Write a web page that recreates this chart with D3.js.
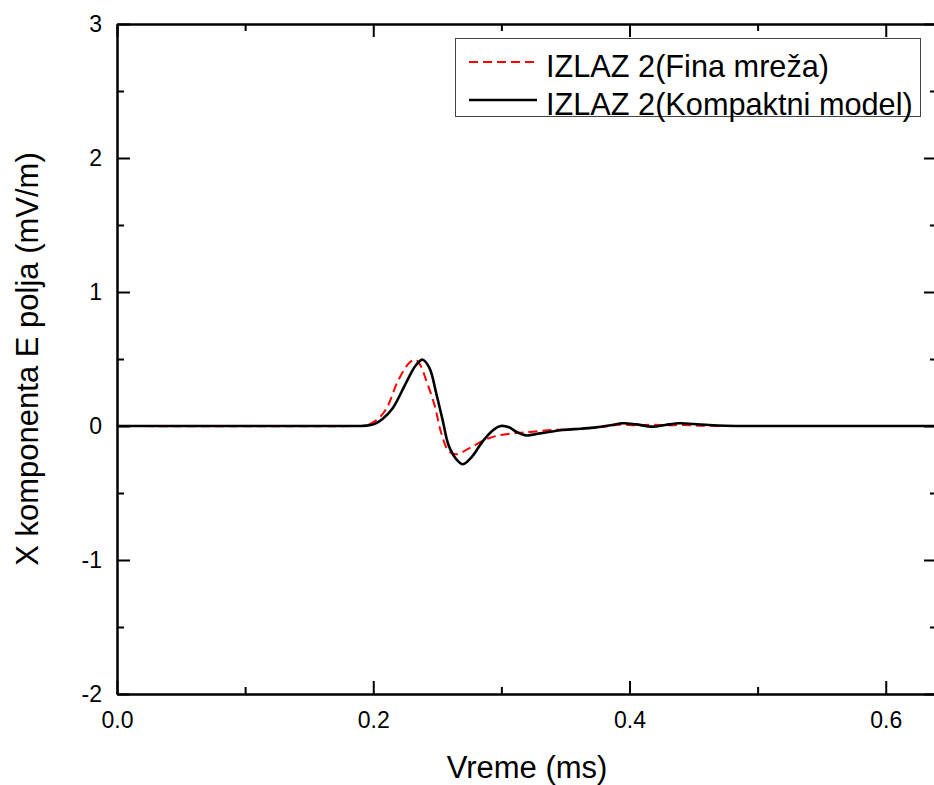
<!DOCTYPE html>
<html>
<head>
<meta charset="utf-8">
<script src="https://cdn.jsdelivr.net/npm/d3@7"></script>
<style>
  html, body { margin: 0; padding: 0; background: #fff; }
  svg { display: block; font-family: Arial, "Liberation Sans", sans-serif; }
</style>
</head>
<body>
<svg id="chart" width="934" height="785"></svg>
<script>
// ---- data ----
const fineT = [0, 0.185, 0.194, 0.202, 0.21, 0.219, 0.228, 0.233, 0.237, 0.241, 0.248, 0.253, 0.259, 0.265, 0.276, 0.288, 0.298, 0.314, 0.322, 0.34, 0.361, 0.38, 0.392, 0.405, 0.418, 0.43, 0.44, 0.46, 0.5, 0.64];
const fineV = [0, 0, 0.005, 0.04, 0.125, 0.33, 0.47, 0.495, 0.45, 0.35, 0.15, -0.05, -0.19, -0.21, -0.16, -0.1, -0.07, -0.05, -0.045, -0.03, -0.02, -0.005, 0.01, 0.005, 0.01, 0.005, 0.008, 0.002, 0, 0];
const compT = [0, 0.18, 0.189, 0.197, 0.202, 0.207, 0.215, 0.226, 0.233, 0.2385, 0.244, 0.249, 0.254, 0.259, 0.265, 0.270, 0.277, 0.285, 0.293, 0.2995, 0.306, 0.312, 0.319, 0.33, 0.348, 0.362, 0.374, 0.385, 0.395, 0.405, 0.418, 0.428, 0.439, 0.45, 0.462, 0.475, 0.5, 0.55, 0.6, 0.64];
const compV = [0, 0, 0, 0.005, 0.02, 0.05, 0.13, 0.33, 0.45, 0.495, 0.43, 0.25, 0.05, -0.15, -0.25, -0.285, -0.23, -0.12, -0.035, 0, -0.01, -0.045, -0.07, -0.055, -0.03, -0.02, -0.01, 0.005, 0.02, 0.012, -0.005, 0.008, 0.02, 0.015, 0.007, 0.002, 0, 0, 0, 0];
const xTicks = [0.0, 0.2, 0.4, 0.6];
const xMinor = [0.1, 0.3, 0.5];
const yTicks = [-2, -1, 0, 1, 2, 3];
const yMinor = [-1.5, -0.5, 0.5, 1.5, 2.5];
const xTickLabels = ["0.0", "0.2", "0.4", "0.6"];
const yTickLabels = ["-2", "-1", "0", "1", "2", "3"];
const seriesNames = ["IZLAZ 2(Fina mreža)", "IZLAZ 2(Kompaktni model)"];
const xTitle = "Vreme (ms)";
const yTitle = "X komponenta E polja (mV/m)";

// ---- layout ----
const L = 117, R = 937, T = 24, B = 694;
const svg = d3.select("#chart");
svg.append("rect").attr("width", 934).attr("height", 785).attr("fill", "#fff");

const x = d3.scaleLinear().domain([0, 0.64]).range([L, R]);
const y = d3.scaleLinear().domain([-2, 3]).range([B, T]);

svg.append("defs").append("clipPath").attr("id", "clip")
  .append("rect").attr("x", L).attr("y", T).attr("width", R - L).attr("height", B - T);

const line = d3.line().x(d => x(d[0])).y(d => y(d[1])).curve(d3.curveCatmullRom.alpha(0.5));
const g = svg.append("g").attr("clip-path", "url(#clip)");
g.append("path").datum(fineT.map((t, i) => [t, fineV[i]]))
  .attr("d", line).attr("fill", "none").attr("stroke", "#ff0000")
  .attr("stroke-width", 2).attr("stroke-dasharray", "9,5");
g.append("path").datum(compT.map((t, i) => [t, compV[i]]))
  .attr("d", line).attr("fill", "none").attr("stroke", "#000")
  .attr("stroke-width", 2.6);

// ---- axes ----
const majorLen = 13, minorLen = 7;
const xLab = d => xTickLabels[xTicks.indexOf(d)];
const yLab = d => yTickLabels[yTicks.indexOf(d)];

svg.append("g").attr("transform", `translate(0,${B})`)
  .call(d3.axisBottom(x).tickValues(xTicks).tickSizeInner(-majorLen).tickSizeOuter(0).tickPadding(18).tickFormat(xLab));
svg.append("g").attr("transform", `translate(0,${B})`)
  .call(d3.axisBottom(x).tickValues(xMinor).tickSizeInner(-minorLen).tickSizeOuter(0).tickFormat(""));
svg.append("g").attr("transform", `translate(0,${T})`)
  .call(d3.axisTop(x).tickValues(xTicks).tickSizeInner(-majorLen).tickSizeOuter(0).tickFormat(""));
svg.append("g").attr("transform", `translate(0,${T})`)
  .call(d3.axisTop(x).tickValues(xMinor).tickSizeInner(-minorLen).tickSizeOuter(0).tickFormat(""));
svg.append("g").attr("transform", `translate(${L},0)`)
  .call(d3.axisLeft(y).tickValues(yTicks).tickSizeInner(-majorLen).tickSizeOuter(0).tickPadding(15).tickFormat(yLab));
svg.append("g").attr("transform", `translate(${L},0)`)
  .call(d3.axisLeft(y).tickValues(yMinor).tickSizeInner(-minorLen).tickSizeOuter(0).tickFormat(""));
svg.append("g").attr("transform", `translate(${R},0)`)
  .call(d3.axisRight(y).tickValues(yTicks).tickSizeInner(-majorLen).tickSizeOuter(0).tickFormat(""));
svg.append("g").attr("transform", `translate(${R},0)`)
  .call(d3.axisRight(y).tickValues(yMinor).tickSizeInner(-minorLen).tickSizeOuter(0).tickFormat(""));

svg.selectAll(".domain").attr("stroke", "#000").attr("stroke-width", 2);
svg.selectAll(".tick line").attr("stroke", "#000").attr("stroke-width", 2);
svg.selectAll(".tick text").style("font-size", "23px").attr("fill", "#000")
  .style("font-family", "Arial, 'Liberation Sans', sans-serif");

// titles
svg.append("text").attr("x", (L + R) / 2).attr("y", 778).attr("text-anchor", "middle")
  .style("font-size", "31px").text(xTitle);
svg.append("text").attr("transform", `translate(38,${(T + B) / 2}) rotate(-90)`)
  .attr("text-anchor", "middle").style("font-size", "31px").text(yTitle);

// legend
const lg = svg.append("g");
lg.append("rect").attr("x", 455.5).attr("y", 38.5).attr("width", 465).attr("height", 78)
  .attr("fill", "#fff").attr("stroke", "#444").attr("stroke-width", 1);
const legY = [62, 100];
const styles = [{c: "#ff0000", w: 2, d: "9,5"}, {c: "#000", w: 2.6, d: null}];
seriesNames.forEach((n, i) => {
  lg.append("line").attr("x1", 469).attr("x2", 537).attr("y1", legY[i]).attr("y2", legY[i])
    .attr("stroke", styles[i].c).attr("stroke-width", styles[i].w)
    .attr("stroke-dasharray", styles[i].d);
  lg.append("text").attr("x", 546).attr("y", legY[i] + 15).style("font-size", "30.7px").text(n);
});
</script>
</body>
</html>
